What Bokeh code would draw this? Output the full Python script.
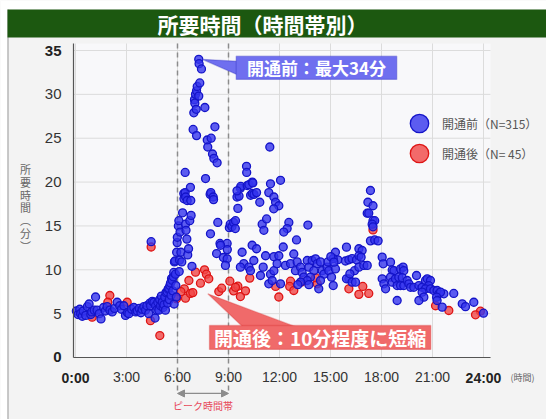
import numpy as np
from bokeh.plotting import figure
from bokeh.models import (Range1d, FixedTicker, Label, BoxAnnotation, PolyAnnotation,
                          Arrow, NormalHead, Legend, LegendItem, ColumnDataSource)
from bokeh.embed import file_html
from bokeh.resources import INLINE

# ---- travel time samples: (hour of day, minutes) ----
# before the road opened
before_night = [
    (0.05, 5.3), (0.15, 4.9), (0.25, 5.5), (0.3, 5.0), (0.4, 4.7), (0.45, 5.3), (0.6, 4.8),
    (0.7, 5.8), (0.8, 6.1), (0.9, 4.9), (0.95, 5.2), (1.1, 5.4), (1.18, 6.9), (1.27, 5.4),
    (1.4, 5.0), (1.5, 4.4), (1.65, 5.7), (1.75, 5.3), (1.86, 5.8), (2.02, 5.4), (2.16, 5.2),
    (2.3, 5.6), (2.45, 6.3), (2.6, 5.9), (2.7, 5.5), (2.84, 5.9), (2.94, 4.8), (3.05, 5.1),
    (3.14, 5.0), (3.3, 5.5), (3.43, 5.7), (3.55, 5.2), (3.63, 5.3), (3.75, 5.6), (3.85, 5.1),
    (3.92, 5.5), (4.02, 5.8), (4.12, 5.4), (4.2, 5.9), (4.31, 5.0), (4.38, 6.2), (4.41, 5.9),
    (4.45, 13.2), (4.52, 6.4), (4.61, 6.3), (4.68, 4.5), (4.71, 5.9), (4.78, 5.4),
]
before_dawn = [
    (4.84, 6.3), (4.9, 5.4), (4.95, 6.6), (5.0, 5.9), (5.05, 7.0), (5.1, 6.3), (5.15, 5.7),
    (5.2, 6.0), (5.25, 6.9), (5.29, 5.4), (5.32, 7.4), (5.39, 7.5), (5.42, 6.2), (5.45, 7.8),
    (5.49, 7.9), (5.52, 6.6), (5.55, 8.2), (5.59, 8.5), (5.62, 7.1), (5.65, 9.0), (5.69, 8.8),
    (5.72, 7.6), (5.75, 9.2), (5.78, 9.7), (5.8, 6.1), (5.82, 10.9), (5.85, 11.0), (5.88, 9.5),
    (5.9, 8.2), (5.93, 6.9), (5.95, 12.0), (5.98, 13.1), (5.99, 13.7),
]
before_peak = [
    (6.05, 15.0), (6.08, 15.6), (6.1, 9.8), (6.12, 11.1), (6.15, 14.3), (6.2, 12.0), (6.25, 10.9),
    (6.3, 16.5), (6.37, 18.7), (6.38, 18.1), (6.45, 21.1), (6.45, 18.8), (6.47, 15.2), (6.48, 18.3),
    (6.5, 14.5), (6.55, 13.5), (6.57, 17.9), (6.6, 11.7), (6.65, 12.4), (6.72, 15.6), (6.76, 19.4),
    (6.78, 17.9), (6.8, 16.2), (6.85, 10.4), (6.92, 26.0), (6.96, 27.9), (7.0, 29.4), (7.02, 29.0),
    (7.06, 30.0), (7.1, 28.3), (7.12, 30.4), (7.12, 25.3), (7.16, 30.9), (7.25, 29.8), (7.25, 34.0),
    (7.27, 33.5), (7.31, 31.3), (7.41, 32.9), (7.61, 28.5), (7.65, 20.4), (7.75, 24.8), (7.78, 24.0),
    (7.92, 18.6), (7.96, 18.8), (7.94, 14.1), (7.98, 25.0), (8.06, 23.2), (8.1, 18.3), (8.12, 18.0),
    (8.14, 22.7), (8.2, 26.3), (8.3, 11.85), (8.33, 22.2), (8.37, 15.4), (8.5, 13.0), (8.7, 11.4),
    (8.92, 13.0), (8.93, 12.3),
]
before_daytime = [
    (9.05, 14.8), (9.1, 15.2), (9.2, 14.9), (9.3, 15.4), (9.4, 14.7), (9.5, 18.3), (9.55, 17.0),
    (9.62, 18.4), (9.7, 19.3), (9.72, 19.5), (9.5, 19.0), (10.06, 21.8), (10.07, 21.1), (10.1, 19.6),
    (10.2, 19.7), (10.3, 18.5), (10.4, 20.0), (10.43, 19.9), (10.4, 18.7), (10.5, 18.6), (10.65, 18.8),
    (10.84, 17.7), (11.43, 24.0), (11.37, 18.8), (11.47, 19.8), (11.67, 18.3), (11.77, 17.7),
    (11.96, 17.3), (12.06, 20.2), (11.66, 16.95),
    (9.41, 15.6), (10.98, 15.2), (11.24, 15.8), (11.08, 14.5), (12.55, 15.4), (12.45, 14.7),
    (12.25, 14.3), (13.67, 15.1), (13.0, 13.4), (12.22, 12.6), (10.39, 12.8), (10.65, 12.4),
    (8.53, 12.8), (9.8, 12.0), (8.92, 11.25), (8.82, 10.5), (9.9, 10.7), (9.7, 10.3), (10.2, 10.3),
    (10.29, 9.9), (10.49, 11.06), (11.18, 11.6), (11.04, 10.3), (11.67, 11.5), (11.96, 11.6),
    (12.35, 10.5), (12.65, 10.7), (12.84, 11.8), (13.04, 10.9), (12.94, 9.9), (13.24, 10.3),
    (13.33, 9.7), (13.43, 9.16), (13.63, 11.06), (13.73, 10.3), (13.92, 11.06), (14.12, 11.25),
    (14.22, 10.7), (14.41, 10.9), (14.51, 9.9), (14.61, 9.5), (14.02, 9.9), (13.82, 9.16),
    (13.63, 8.78), (13.24, 8.6), (13.08, 8.3), (13.73, 8.3), (14.41, 8.78), (14.31, 7.83),
    (14.8, 10.3), (14.9, 9.9), (14.85, 10.9), (12.06, 8.4), (11.37, 8.4), (10.88, 9.35),
    (11.47, 9.5), (11.67, 9.9), (11.86, 10.7), (11.57, 8.78),
]
before_evening = [
    (15.29, 12.0), (15.43, 11.14), (15.16, 11.27), (15.02, 11.5), (15.29, 10.1), (15.2, 10.87),
    (15.16, 8.2), (15.06, 9.16), (15.94, 12.58), (15.88, 11.0), (16.08, 11.14), (16.27, 11.27),
    (16.53, 11.14), (16.67, 12.4), (16.86, 12.2), (16.67, 11.6), (16.8, 11.44), (16.41, 9.9),
    (16.67, 10.3), (16.96, 10.5), (17.16, 10.5), (16.08, 8.97), (15.94, 8.97), (16.27, 8.59),
    (16.47, 8.59), (16.14, 9.54), (17.35, 19.04), (17.2, 17.7), (17.5, 17.3), (17.16, 16.45),
    (17.25, 16.45), (17.5, 15.6), (17.6, 15.6), (17.45, 15.2), (17.5, 14.9), (17.35, 13.3),
    (17.6, 13.4), (17.8, 13.3), (18.04, 11.44), (18.1, 10.68), (18.53, 10.87), (18.63, 9.98),
    (18.73, 9.9), (19.12, 10.1), (19.27, 10.3), (19.31, 9.9), (18.04, 8.97), (18.14, 8.4),
    (18.24, 7.83), (18.53, 9.16), (18.63, 8.59), (18.82, 8.97), (18.92, 8.2), (19.12, 8.2),
    (19.31, 8.2), (19.02, 9.16), (19.22, 9.1), (19.51, 8.78), (19.61, 8.4), (19.71, 8.0),
    (19.9, 8.0), (20.06, 9.35), (20.2, 8.2), (20.39, 8.0), (20.59, 8.78), (20.69, 8.97),
    (20.88, 8.78), (20.78, 8.2), (20.59, 7.83), (20.39, 7.45), (20.49, 6.88), (20.88, 7.83),
    (21.08, 7.64), (21.27, 7.64), (21.37, 7.26), (21.67, 7.26), (21.47, 7.45), (21.24, 6.88),
    (21.27, 6.5), (22.25, 7.3), (20.2, 6.5), (18.92, 6.5), (21.57, 5.74), (22.75, 6.12),
    (22.94, 5.8), (23.43, 6.3), (24.0, 5.05),
]
# after the road opened
after_all = [
    (0.98, 4.6), (2.02, 7.07), (1.9, 6.3), (3.04, 6.3), (4.45, 12.6), (4.41, 4.2), (4.96, 2.5),
    (5.94, 6.7), (6.47, 6.76), (6.4, 7.83), (6.67, 8.78), (6.76, 7.3), (6.9, 7.4), (7.06, 9.73),
    (7.35, 8.47), (7.59, 10.0), (7.7, 9.5), (7.84, 8.97), (8.43, 7.52), (9.08, 8.7), (9.3, 7.6),
    (9.55, 8.13), (9.7, 6.95), (10.25, 9.05), (9.41, 8.0), (11.77, 8.1), (11.96, 6.9),
    (12.65, 8.7), (12.6, 8.1), (12.84, 7.64), (14.22, 8.4), (14.12, 9.1), (16.08, 7.83),
    (16.67, 7.2), (16.9, 8.1), (17.25, 7.3), (17.5, 14.55), (21.18, 5.9), (21.96, 5.36),
    (23.82, 5.28), (23.53, 4.87), (6.2, 7.5), (8.6, 7.9), (13.3, 8.6), (10.0, 7.6),
]

hour_ticks = [0, 3, 6, 9, 12, 15, 18, 21, 24]
hour_labels = ["0:00", "3:00", "6:00", "9:00", "12:00", "15:00", "18:00", "21:00", "24:00"]
minute_ticks = [0, 5, 10, 15, 20, 25, 30, 35]
peak_start, peak_end = 6, 9

before = before_night + before_dawn + before_peak + before_daytime + before_evening
bh = [t for t, _ in before]
bm = [m for _, m in before]
ah = [t for t, _ in after_all]
am = [m for _, m in after_all]

CJK = "Noto Sans CJK JP"
LAT = "Liberation Sans"

W, H = 546, 419
# the frame fills the whole canvas; the plotting area is a sub-rectangle of it
X_LO, X_HI = -4.412, 27.706
Y_LO, Y_HI = -7.069, 40.702
AREA_L, AREA_R, AREA_T = -0.118, 24.41, 35.8

p = figure(width=W, height=H, x_range=Range1d(X_LO, X_HI), y_range=Range1d(Y_LO, Y_HI),
           output_backend="svg", toolbar_location=None, title=None,
           min_border=0, min_border_left=0, min_border_right=0,
           min_border_top=0, min_border_bottom=0)
p.outline_line_color = None
p.background_fill_color = "#f3f3f3"
p.border_fill_color = "#f3f3f3"
p.grid.visible = False

# plotting area background and grid
p.quad(left=[AREA_L], right=[AREA_R], bottom=[0], top=[AREA_T], fill_color="#f8f8fa",
       line_alpha=0, level="underlay")
p.segment(x0=hour_ticks, x1=hour_ticks, y0=0, y1=AREA_T, line_color="#dcdcdc",
          line_width=1, level="underlay")
p.segment(x0=AREA_L, x1=AREA_R, y0=minute_ticks, y1=minute_ticks, line_color="#dcdcdc",
          line_width=1, level="underlay")
# peak period dashed guides
p.segment(x0=[peak_start, peak_end], x1=[peak_start, peak_end], y0=AREA_T, y1=-3.9,
          line_color="#8c8c8c", line_width=1.5, line_dash="5 4", level="underlay")

# axes drawn inside the frame
xa, ya = p.xaxis[0], p.yaxis[0]
xa.fixed_location = 0
ya.fixed_location = AREA_L
xa.bounds = (AREA_L, AREA_R)
ya.bounds = (0, AREA_T)
xa.ticker = FixedTicker(ticks=hour_ticks)
ya.ticker = FixedTicker(ticks=minute_ticks)
xa.major_label_overrides = {t: ("" if t in (hour_ticks[0], hour_ticks[-1]) else s)
                            for t, s in zip(hour_ticks, hour_labels)}
ya.major_label_overrides = {t: ("" if t in (minute_ticks[0], minute_ticks[-1]) else str(t))
                            for t in minute_ticks}
for ax, fs in ((xa, "14px"), (ya, "15px")):
    ax.major_tick_in = ax.major_tick_out = 0
    ax.minor_tick_in = ax.minor_tick_out = 0
    ax.major_label_text_font = LAT
    ax.major_label_text_font_size = fs
    ax.major_label_text_color = "#333333"
    ax.major_label_standoff = 12
    ax.axis_line_color = "#555555"
    ax.axis_line_width = 1.2

# end-of-scale tick labels in bold
for t, s in ((hour_ticks[0], hour_labels[0]), (hour_ticks[-1], hour_labels[-1])):
    p.add_layout(Label(x=t, y=42, y_units="screen", text=s, text_font=LAT,
                       text_font_size="14px", text_font_style="bold", text_color="#222222",
                       text_align="center", text_baseline="middle"))
for t in (minute_ticks[0], minute_ticks[-1]):
    p.add_layout(Label(x=61, x_units="screen", y=t, text=str(t), text_font=LAT,
                       text_font_size="15px", text_font_style="bold", text_color="#222222",
                       text_align="right", text_baseline="middle"))

# page decoration: white margin, frame line and title bar (screen units)
def sbox(l, r, b, t, color):
    p.add_layout(BoxAnnotation(left=l, right=r, bottom=b, top=t, left_units="screen",
                               right_units="screen", bottom_units="screen", top_units="screen",
                               fill_color=color, fill_alpha=1, line_alpha=0))

sbox(0, W, 410, H, "white")
sbox(0, 7, 0, H, "white")
sbox(7, 8, 0, 410, "#9a9a9a")
sbox(7, W, 382, 410, "#1c5810")
p.add_layout(Label(x=262, y=396, x_units="screen", y_units="screen", text="所要時間（時間帯別）",
                   text_font=CJK, text_font_size="21px", text_font_style="bold",
                   text_color="white", text_align="center", text_baseline="middle"))

# vertical axis title, one character per line
p.add_layout(Label(x=25, y=212, x_units="screen", y_units="screen",
                   text="\n".join("所要時間︵分︶"), text_font=CJK, text_font_size="11px",
                   text_line_height=0.8, text_color="#666666",
                   text_align="center", text_baseline="middle"))
p.add_layout(Label(x=522, y=42, x_units="screen", y_units="screen", text="(時間)",
                   text_font=CJK, text_font_size="9px", text_color="#666666",
                   text_align="center", text_baseline="middle"))

# peak period arrow and caption
head = dict(size=7, fill_color="#8c8c8c", line_color="#8c8c8c")
p.add_layout(Arrow(start=NormalHead(**head), end=NormalHead(**head),
                   x_start=peak_start, x_end=peak_end, y_start=-4.1, y_end=-4.1,
                   line_color="#8c8c8c", line_width=1.2))
p.add_layout(Label(x=(peak_start + peak_end) / 2, y=14, y_units="screen", text="ピーク時間帯",
                   text_font=CJK, text_font_size="10px", text_color="#e8485a",
                   text_align="center", text_baseline="middle"))

# scatter points
r_after = p.scatter(x="h", y="m", source=ColumnDataSource(dict(h=ah, m=am)), size=8,
                    fill_color="#f04646", fill_alpha=0.8, line_color="#de1414", line_width=1.3)
r_before = p.scatter(x="h", y="m", source=ColumnDataSource(dict(h=bh, m=bm)), size=8,
                     fill_color="#3434ee", fill_alpha=0.8, line_color="#1414c8", line_width=1.3)

# legend: one box per series so the rows can sit close together
legend_style = dict(orientation="vertical", padding=0, margin=0, glyph_width=46,
                    glyph_height=46, label_standoff=0, label_text_font=CJK,
                    label_text_font_size="12px", label_text_color="#555555",
                    background_fill_alpha=0, border_line_alpha=0)
p.add_layout(Legend(items=[LegendItem(label=f"開通前（N={len(bh):3d}）", renderers=[r_before])],
                    location=(396, 273), **legend_style))
p.add_layout(Legend(items=[LegendItem(label=f"開通後（N={len(ah):3d}）", renderers=[r_after])],
                    location=(396, 243), **legend_style))

# callout for the peak maximum
imax = int(np.argmax(bm))
max_h, max_m = bh[imax], bm[imax]
c1 = dict(left=9.45, right=18.9, top=34.35, bottom=31.7)
p.add_layout(PolyAnnotation(xs=[max_h + 0.2, c1["left"] + 0.3, c1["left"] + 0.3],
                            ys=[max_m, 33.75, 32.05], fill_color="#6f6fef", fill_alpha=1,
                            line_color="#2a2ab8", line_width=1.3))
p.add_layout(BoxAnnotation(**c1, fill_color="#6f6fef", fill_alpha=1,
                           line_color="#2a2ab8", line_width=1.3))
p.add_layout(Label(x=(c1["left"] + c1["right"]) / 2, y=(c1["top"] + c1["bottom"]) / 2,
                   text=f"開通前：最大{round(max_m)}分", text_font=CJK, text_font_size="17px",
                   text_font_style="bold", text_color="white",
                   text_align="center", text_baseline="middle"))

# callout for the after-opening level
c2 = dict(left=7.88, right=20.9, top=3.65, bottom=0.92)
p.add_layout(PolyAnnotation(xs=[7.78, 9.9, 13.1], ys=[7.26, 3.4, 3.4], fill_color="#f06a6a",
                            fill_alpha=1, line_color="#d42828", line_width=1.3))
p.add_layout(BoxAnnotation(**c2, fill_color="#f06a6a", fill_alpha=1,
                           line_color="#d42828", line_width=1.3))
p.add_layout(Label(x=(c2["left"] + c2["right"]) / 2, y=(c2["top"] + c2["bottom"]) / 2,
                   text="開通後：10分程度に短縮", text_font=CJK, text_font_size="19px",
                   text_font_style="bold", text_color="white",
                   text_align="center", text_baseline="middle"))

open("out.html", "w").write(file_html(p, INLINE))
